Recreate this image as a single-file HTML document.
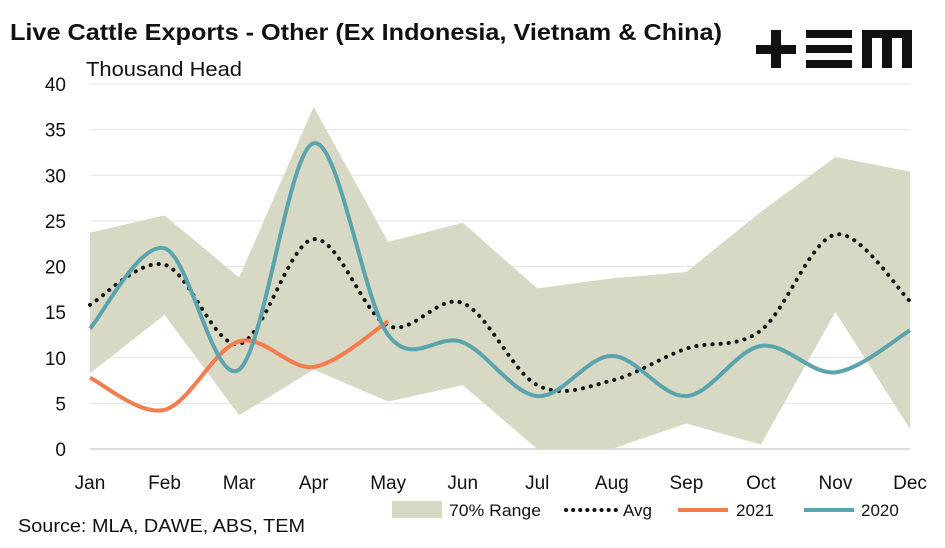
<!DOCTYPE html>
<html><head><meta charset="utf-8"><style>
body{margin:0;background:#fff;font-family:"Liberation Sans",sans-serif}
svg text{font-family:"Liberation Sans",sans-serif}
</style></head><body>
<svg id="c" width="945" height="543">
<text x="10" y="40" font-size="23" font-weight="bold" fill="#111" textLength="712" lengthAdjust="spacingAndGlyphs">Live Cattle Exports - Other (Ex Indonesia, Vietnam &amp; China)</text>
<text x="86" y="76" font-size="20" fill="#111" textLength="156" lengthAdjust="spacingAndGlyphs">Thousand Head</text>
<g fill="#111">
<rect x="756" y="45" width="40" height="9"/><rect x="771" y="30" width="10" height="38"/>
<rect x="806" y="30" width="46" height="8"/><rect x="806" y="45" width="46" height="8"/><rect x="806" y="60" width="46" height="8"/>
<rect x="862" y="30" width="10" height="38"/><rect x="882" y="30" width="10" height="38"/><rect x="902" y="30" width="10" height="38"/><rect x="862" y="30" width="50" height="8"/>
</g>
<g id="grid"></g><g id="series"></g><g id="axes"></g>
<g>
<rect x="392" y="501" width="50" height="17" fill="#d8d9c4"/>
<text x="449" y="516" font-size="17" fill="#111" textLength="92" lengthAdjust="spacingAndGlyphs">70% Range</text>
<line x1="566" y1="510" x2="616" y2="510" stroke="#111" stroke-width="4" stroke-dasharray="0.1 7" stroke-linecap="round"/>
<text x="623" y="516" font-size="17" fill="#111">Avg</text>
<line x1="678" y1="510" x2="728" y2="510" stroke="#f47c4e" stroke-width="4"/>
<text x="736" y="516" font-size="17" fill="#111">2021</text>
<line x1="804" y1="510" x2="854" y2="510" stroke="#5ba4ad" stroke-width="4"/>
<text x="861" y="516" font-size="17" fill="#111">2020</text>
</g>
<text x="18" y="532" font-size="18" fill="#111" textLength="287" lengthAdjust="spacingAndGlyphs">Source: MLA, DAWE, ABS, TEM</text>
</svg>
<script>
const months=["Jan","Feb","Mar","Apr","May","Jun","Jul","Aug","Sep","Oct","Nov","Dec"];
const yTicks=[0,5,10,15,20,25,30,35,40];
const rangeLow=[8.3,14.7,3.7,8.7,5.2,7,-2,-2,2.8,0.5,15,2.2];
const rangeHigh=[23.7,25.6,18.8,37.5,22.7,24.8,17.6,18.7,19.4,26,32,30.4];
const avg=[15.8,20.2,11.5,23,13.5,16,7,7.5,11,13,23.5,16.2];
const s2021=[7.8,4.3,11.8,9,14];
const s2020=[13.2,22,8.7,33.5,12.5,11.7,5.8,10.2,5.8,11.3,8.4,13];
const NS="http://www.w3.org/2000/svg";
const x=i=>90+i*(820/11);
const y=v=>449-Math.max(v,0)*9.125;
function mk(tag,attrs,parent){const e=document.createElementNS(NS,tag);for(const k in attrs)e.setAttribute(k,attrs[k]);document.getElementById(parent).appendChild(e);return e;}
function smooth(vals){const p=vals.map((v,i)=>[x(i),449-v*9.125]);let d="M"+p[0][0]+","+p[0][1];
for(let i=0;i<p.length-1;i++){const p0=p[i-1]||p[i],p1=p[i],p2=p[i+1],p3=p[i+2]||p2;
d+=" C"+(p1[0]+(p2[0]-p0[0])/6)+","+(p1[1]+(p2[1]-p0[1])/6)+" "+(p2[0]-(p3[0]-p1[0])/6)+","+(p2[1]-(p3[1]-p1[1])/6)+" "+p2[0]+","+p2[1];}return d;}
yTicks.forEach(t=>{
const g=mk("line",{x1:90,x2:910,y1:y(t),y2:y(t),stroke:t===0?"#bbb":"#e3e3e3","stroke-width":1},"grid");


const l=mk("text",{x:66,y:y(t)+7,"font-size":19,fill:"#111","text-anchor":"end"},"axes");l.textContent=t;


});
months.forEach((m,i)=>{const l=mk("text",{x:x(i),y:489,"font-size":19,fill:"#111","text-anchor":"middle"},"axes");l.textContent=m;

});
let d="M"+rangeHigh.map((v,i)=>x(i)+","+y(v)).join(" L");
for(let i=rangeLow.length-1;i>=0;i--)d+=" L"+x(i)+","+y(rangeLow[i]);
const area=mk("path",{d:d+"Z",fill:"#d8d9c4"},"series");


const a=mk("path",{d:smooth(avg),fill:"none",stroke:"#111","stroke-width":4,"stroke-dasharray":"0.1 8","stroke-linecap":"round"},"series");


const b=mk("path",{d:smooth(s2021),fill:"none",stroke:"#f47c4e","stroke-width":4},"series");


const c=mk("path",{d:smooth(s2020),fill:"none",stroke:"#5ba4ad","stroke-width":4},"series");


</script>
</body></html>
